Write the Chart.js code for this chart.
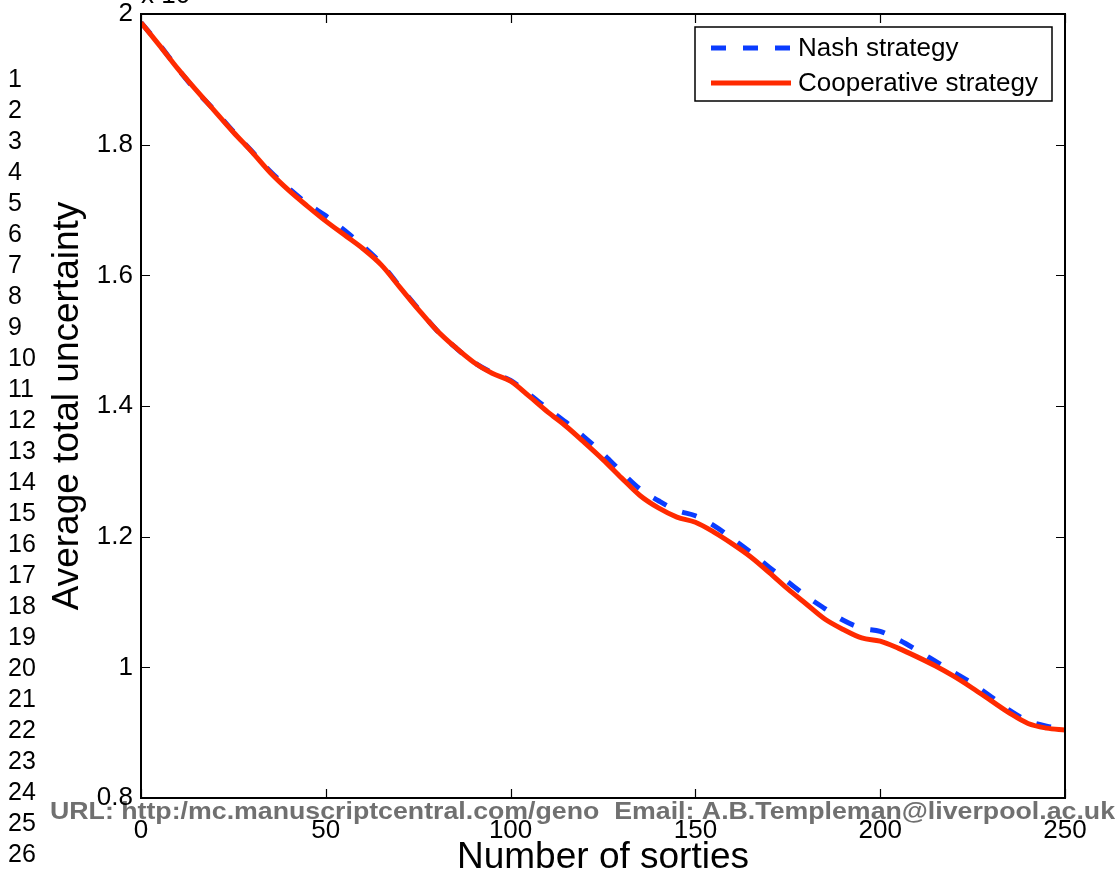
<!DOCTYPE html>
<html lang="en">
<head>
<meta charset="UTF-8">
<title>Average total uncertainty vs number of sorties</title>
<script src="https://cdn.jsdelivr.net/npm/chart.js"></script>
<style>
  body { margin: 0; background: #fff; }
  .wrap { position: relative; width: 1120px; height: 874px; }
</style>
</head>
<body>
<div class="wrap"><canvas id="sortieChart"></canvas></div>
<script>
// number of sorties (x) and average total uncertainty (x 10^4)
const sorties = [0, 5, 10, 15, 20, 25, 30, 35, 40, 45, 50, 55, 60, 65, 70, 75, 80, 85, 90, 95,
  100, 105, 110, 115, 120, 125, 130, 135, 140, 145, 150, 155, 160, 165, 170, 175, 180, 185, 190, 195,
  200, 205, 210, 215, 220, 225, 230, 235, 240, 245, 250];

const nashUncertainty = [1.987, 1.953, 1.916, 1.882, 1.852, 1.820, 1.790, 1.759, 1.733, 1.710,
  1.691, 1.669, 1.645, 1.618, 1.583, 1.549, 1.516, 1.490, 1.467, 1.451,
  1.439, 1.418, 1.396, 1.375, 1.352, 1.327, 1.299, 1.273, 1.255, 1.240,
  1.232, 1.217, 1.197, 1.176, 1.153, 1.131, 1.109, 1.090, 1.072, 1.060,
  1.055, 1.042, 1.026, 1.009, 0.992, 0.975, 0.955, 0.934, 0.918, 0.910, 0.906];

const coopUncertainty = [1.987, 1.952, 1.916, 1.883, 1.851, 1.819, 1.789, 1.757, 1.730, 1.706,
  1.683, 1.662, 1.641, 1.616, 1.582, 1.548, 1.516, 1.490, 1.467, 1.450,
  1.438, 1.415, 1.391, 1.369, 1.344, 1.318, 1.290, 1.263, 1.244, 1.230,
  1.222, 1.207, 1.189, 1.169, 1.145, 1.120, 1.097, 1.074, 1.058, 1.045,
  1.040, 1.029, 1.016, 1.002, 0.986, 0.968, 0.949, 0.930, 0.914, 0.907, 0.904];

const seriesNames = ['Nash strategy', 'Cooperative strategy'];
const lineNumbers = ['1', '2', '3', '4', '5', '6', '7', '8', '9', '10', '11', '12', '13',
  '14', '15', '16', '17', '18', '19', '20', '21', '22', '23', '24', '25', '26'];
const footerText = 'URL: http:/mc.manuscriptcentral.com/geno  Email: A.B.Templeman@liverpool.ac.uk';

const FONT = '"Liberation Sans", Arial, Helvetica, sans-serif';
const BLUE = '#0a3cff';
const RED = '#ff2a00';

function toPoints(ys) {
  return sorties.map((x, i) => ({ x: x, y: ys[i] }));
}

// page furniture: manuscript line numbers and the submission footer, under the axes
const pageMarks = {
  id: 'pageMarks',
  beforeDraw(chart) {
    const ctx = chart.ctx;
    ctx.save();
    ctx.fillStyle = '#000';
    ctx.font = '25px ' + FONT;
    ctx.textAlign = 'left';
    ctx.textBaseline = 'middle';
    lineNumbers.forEach((n, i) => ctx.fillText(n, 8, 80 + i * 31));

    ctx.fillStyle = '#707070';
    ctx.font = 'bold 24px ' + FONT;
    const w = ctx.measureText(footerText).width;
    ctx.save();
    ctx.translate(50, 819);
    ctx.scale(1065 / w, 1);
    ctx.textBaseline = 'alphabetic';
    ctx.fillText(footerText, 0, 0);
    ctx.restore();
    ctx.restore();
  }
};

// MATLAB style box with inward ticks, exponent note and legend
const boxAxes = {
  id: 'boxAxes',
  afterDraw(chart) {
    const { ctx, chartArea: a, scales } = chart;
    ctx.save();
    ctx.strokeStyle = '#000';
    ctx.lineWidth = 1.2;
    ctx.beginPath();
    scales.x.ticks.forEach(t => {
      const px = Math.round(scales.x.getPixelForValue(t.value)) + 0.5;
      ctx.moveTo(px, a.bottom); ctx.lineTo(px, a.bottom - 9);
      ctx.moveTo(px, a.top); ctx.lineTo(px, a.top + 9);
    });
    scales.y.ticks.forEach(t => {
      const py = Math.round(scales.y.getPixelForValue(t.value)) + 0.5;
      ctx.moveTo(a.left, py); ctx.lineTo(a.left + 9, py);
      ctx.moveTo(a.right, py); ctx.lineTo(a.right - 9, py);
    });
    ctx.stroke();

    ctx.lineWidth = 2;
    ctx.strokeRect(a.left, a.top, a.right - a.left, a.bottom - a.top);

    // exponent of the y axis
    ctx.fillStyle = '#000';
    ctx.font = '26px ' + FONT;
    ctx.textBaseline = 'alphabetic';
    ctx.fillText('x 10', a.left, 3);
    ctx.font = '18px ' + FONT;
    ctx.fillText('4', a.left + 52, -8);

    // legend
    const lx = 695, ly = 27, lw = 357, lh = 74;
    ctx.fillStyle = '#fff';
    ctx.fillRect(lx, ly, lw, lh);
    ctx.lineWidth = 1.5;
    ctx.strokeStyle = '#000';
    ctx.strokeRect(lx, ly, lw, lh);
    const rows = [48, 83];
    chart.data.datasets.forEach((ds, i) => {
      ctx.beginPath();
      ctx.strokeStyle = ds.borderColor;
      ctx.lineWidth = ds.borderWidth;
      ctx.setLineDash(ds.borderDash || []);
      ctx.moveTo(711, rows[i]);
      ctx.lineTo(791, rows[i]);
      ctx.stroke();
      ctx.setLineDash([]);
      ctx.fillStyle = '#000';
      ctx.font = '26px ' + FONT;
      ctx.textBaseline = 'middle';
      ctx.fillText(ds.label, 798, rows[i] + 1);
    });
    ctx.restore();
  }
};

new Chart(document.getElementById('sortieChart'), {
  type: 'line',
  data: {
    datasets: [
      {
        label: seriesNames[0],
        data: toPoints(nashUncertainty),
        borderColor: BLUE,
        borderWidth: 5,
        borderDash: [15, 17],
        pointRadius: 0,
        cubicInterpolationMode: 'monotone',
        order: 1
      },
      {
        label: seriesNames[1],
        data: toPoints(coopUncertainty),
        borderColor: RED,
        borderWidth: 5,
        pointRadius: 0,
        cubicInterpolationMode: 'monotone',
        order: 0
      }
    ]
  },
  options: {
    responsive: true,
    maintainAspectRatio: false,
    animation: false,
    layout: { padding: { top: 14, right: 55, left: 0, bottom: 0 } },
    plugins: {
      legend: { display: false },
      tooltip: { enabled: false }
    },
    scales: {
      x: {
        type: 'linear',
        min: 0,
        max: 250,
        grid: { display: false, drawTicks: false },
        border: { display: false },
        ticks: {
          stepSize: 50,
          color: '#000',
          padding: 17,
          maxRotation: 0,
          font: { family: FONT, size: 26 }
        },
        title: {
          display: true,
          text: 'Number of sorties',
          color: '#000',
          font: { family: FONT, size: 37, lineHeight: 0.85 },
          padding: { top: 0, bottom: 0 }
        },
        afterFit(s) {
          s.height = 76;
          s.paddingLeft = 0;
          s.paddingRight = 0;
        }
      },
      y: {
        min: 0.8,
        max: 2,
        grid: { display: false, drawTicks: false },
        border: { display: false },
        ticks: {
          stepSize: 0.2,
          color: '#000',
          padding: 8,
          font: { family: FONT, size: 26 },
          callback: v => String(Number(v.toFixed(1)))
        },
        title: {
          display: true,
          text: 'Average total uncertainty',
          color: '#000',
          font: { family: FONT, size: 37, lineHeight: 1 },
          padding: { top: 49, bottom: 0 }
        },
        afterFit(s) {
          s.width = 141;
          s.paddingTop = 0;
          s.paddingBottom = 0;
        }
      }
    }
  },
  plugins: [pageMarks, boxAxes]
});
</script>
</body>
</html>
